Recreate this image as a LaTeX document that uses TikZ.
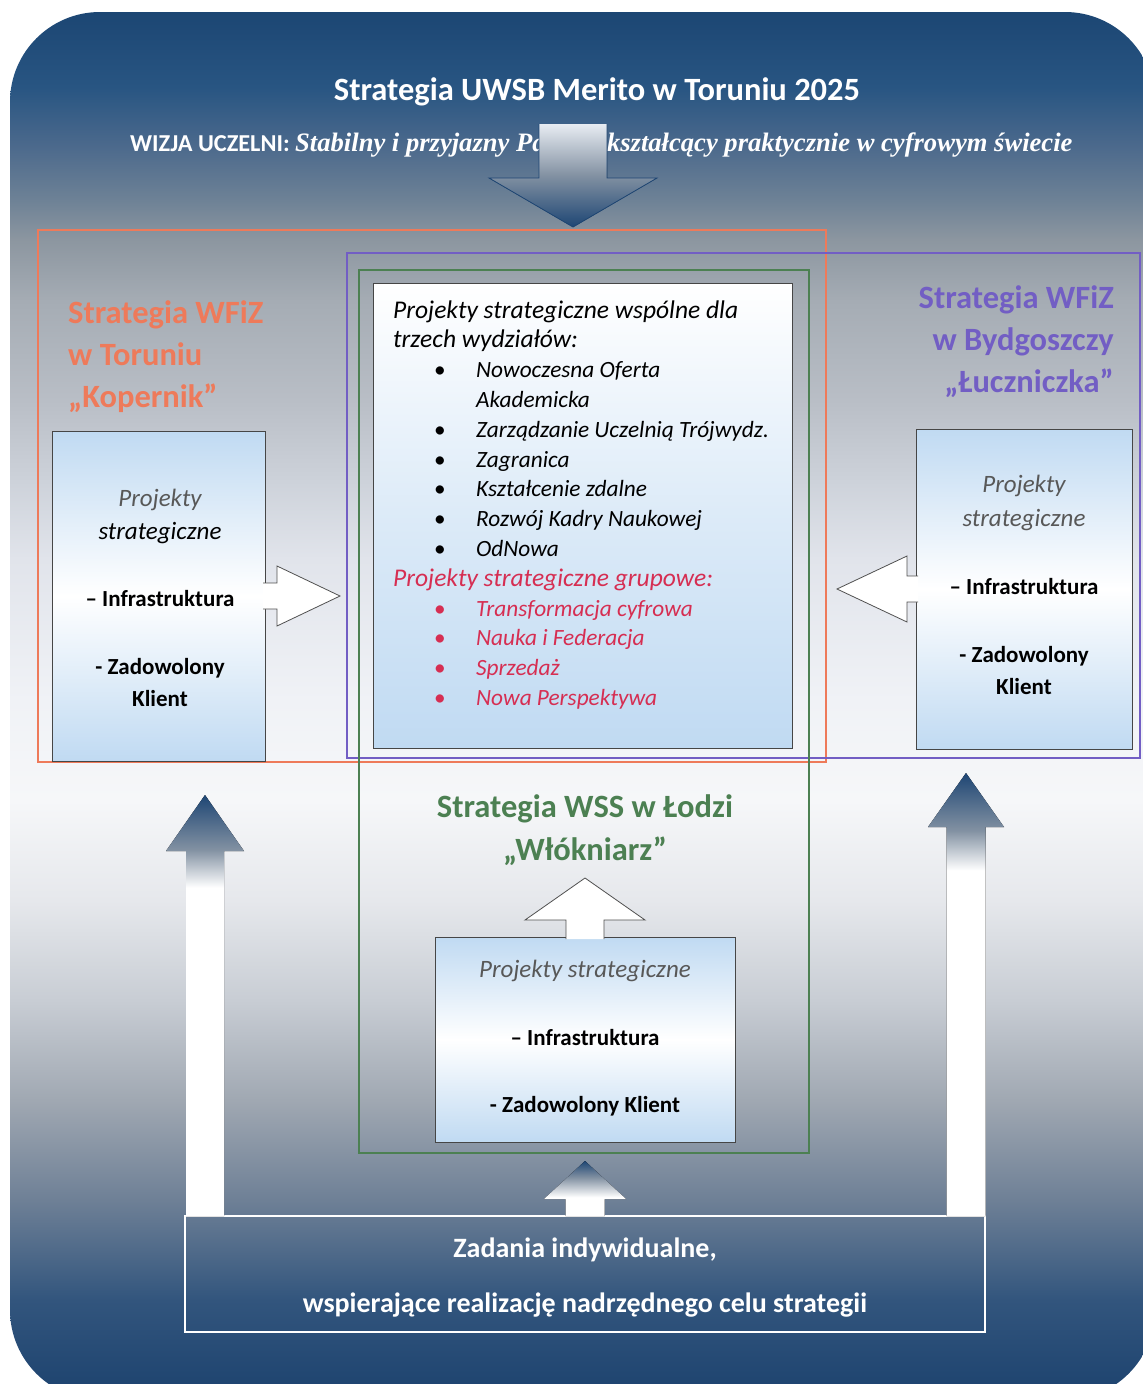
\documentclass[tikz,border=0pt]{standalone}
\usepackage{fontspec}
\setmainfont{Carlito}
\newfontfamily\visionfont{Liberation Serif}
\usepackage{tikz}
\usetikzlibrary{positioning,calc}
\usepackage{xcolor}
\definecolor{kopred}{RGB}{238,122,90}
\definecolor{lucpurple}{RGB}{114,94,196}
\definecolor{wlogreen}{RGB}{76,128,82}
\definecolor{projred}{RGB}{214,46,82}
\definecolor{projgrey}{RGB}{88,88,88}
\definecolor{boxblue}{RGB}{192,218,242}
\definecolor{boxline}{RGB}{70,70,70}
\definecolor{arrowline}{RGB}{80,80,80}
\definecolor{arrowdark}{RGB}{30,70,116}
\definecolor{arrowmid}{RGB}{130,145,162}
\definecolor{arrowtop}{RGB}{232,236,242}
\definecolor{bgA}{RGB}{28,66,110}
\definecolor{bgB}{RGB}{50,85,125}
\definecolor{bgC}{RGB}{110,128,150}
\definecolor{bgD}{RGB}{160,168,178}
\definecolor{bgE}{RGB}{200,205,212}
\definecolor{bgF}{RGB}{230,232,236}
\definecolor{bgG}{RGB}{246,247,249}
\definecolor{bgH}{RGB}{240,242,246}
\definecolor{bgI}{RGB}{225,228,235}
\definecolor{bgJ}{RGB}{205,210,218}
\definecolor{bgK}{RGB}{185,190,198}
\definecolor{bgL}{RGB}{165,172,180}
\definecolor{bgM}{RGB}{140,150,160}
\definecolor{bgN}{RGB}{110,130,150}
\definecolor{bgO}{RGB}{75,105,140}
\definecolor{bgP}{RGB}{40,85,130}
\definecolor{bgQ}{RGB}{28,70,115}
\pgfdeclareverticalshading{bgshade}{100bp}{color(0bp)=(bgA); color(25bp)=(bgA); color(28.6bp)=(bgB); color(32.2bp)=(bgC); color(35.8bp)=(bgD); color(39.4bp)=(bgE); color(43bp)=(bgF); color(46.6bp)=(bgG); color(50.2bp)=(bgH); color(55.3bp)=(bgI); color(58.1bp)=(bgJ); color(61bp)=(bgK); color(64.6bp)=(bgL); color(66.8bp)=(bgM); color(68.2bp)=(bgN); color(70.2bp)=(bgO); color(72.3bp)=(bgP); color(75bp)=(bgQ); color(100bp)=(bgQ)}
\pgfdeclareverticalshading{upfade}{100bp}{color(0bp)=(white); color(64bp)=(white); color(68.5bp)=(arrowmid); color(75bp)=(arrowdark); color(100bp)=(arrowdark)}
\pgfdeclareverticalshading{smallfade}{100bp}{color(0bp)=(white); color(42bp)=(white); color(60bp)=(arrowmid); color(75bp)=(arrowdark); color(100bp)=(arrowdark)}
\tikzstyle{framebox} = [draw, line width=2pt, inner sep=0pt, outer sep=0pt, anchor=north west]
\tikzstyle{projbox} = [draw=boxline, line width=0.8pt, inner sep=0pt, outer sep=0pt, anchor=north west, top color=boxblue, bottom color=boxblue, middle color=white]
\tikzstyle{headtxt} = [inner sep=0pt, font=\bfseries\fontsize{32.5}{42}\selectfont]
\tikzstyle{projtxt} = [inner sep=0pt, anchor=base, text=projgrey, font=\itshape\fontsize{25}{33}\selectfont]
\tikzstyle{itemtxt} = [inner sep=0pt, anchor=base, font=\bfseries\fontsize{23}{32}\selectfont]
\tikzstyle{whitearrow} = [fill=white]
\tikzstyle{whiteline} = [draw=arrowline, line width=0.8pt, line join=miter]
\newcommand{\itemsize}{\fontsize{23.3}{29.8}\selectfont}
\newcommand{\bul}{\itemsize\hspace*{41pt}\makebox[42pt][l]{\upshape\textbullet}}
% block arrow: fill, outline, tail, angle, length, shaft half, head half, head length
\newcommand{\blockarrow}[8]{%
  \begin{scope}[shift={(#3)}, rotate=#4]
    \fill[#1] (0,-#6) -- ({#5-#8},-#6) -- ({#5-#8},-#7) -- (#5,0) -- ({#5-#8},#7) -- ({#5-#8},#6) -- (0,#6) -- cycle;
    \draw[#2] (0,-#6) -- ({#5-#8},-#6) -- ({#5-#8},-#7) -- (#5,0) -- ({#5-#8},#7) -- ({#5-#8},#6) -- (0,#6);
  \end{scope}}

\begin{document}
\begin{tikzpicture}[x=1pt, y=-1pt]
\useasboundingbox (0,0) rectangle (1143,1384);

% Background
\begin{scope}
\clip[rounded corners=90pt] (10,12) rectangle (1155,1400);
\shade[shading=bgshade] (10,12) rectangle (1155,1400);
\end{scope}

% Title and vision
\node (title) [text=white, inner sep=0pt, anchor=base, font=\bfseries\fontsize{32.5}{39}\selectfont] at (597,100) {Strategia UWSB Merito w Toruniu 2025};
\node (vision) [text=white, inner sep=0pt, anchor=base west, font=\fontsize{24.3}{28}\selectfont] at (130,151) {\textbf{WIZJA UCZELNI:} {\visionfont\bfseries\itshape\fontsize{26.6}{30}\selectfont Stabilny i przyjazny Partner kształcący praktycznie w cyfrowym świecie}};
\coordinate (visionin) at (573,124);
\blockarrow{top color=arrowtop, bottom color=arrowdark, middle color=arrowmid}{draw=arrowdark, line width=0.8pt}{visionin}{-90}{103}{34}{84}{49}

% Strategy frames
\node (kopernik) [framebox, draw=kopred, minimum width=788pt, minimum height=532pt] at (38,230) {};
\node (luczniczka) [framebox, draw=lucpurple, minimum width=793pt, minimum height=505pt] at (347,253) {};
\node (wlokniarz) [framebox, draw=wlogreen, line width=1.6pt, minimum width=450pt, minimum height=883pt] at (359,270) {};

% Common projects
\node (wspolne) [projbox, top color=white, bottom color=boxblue, middle color=boxblue!55, minimum width=419pt, minimum height=465pt] at (373,283) {};
\node (wspolnetxt) [inner sep=0pt, anchor=base west, font=\itshape\fontsize{25.5}{29.8}\selectfont] at (393,318) {
\begin{tabular}[t]{@{}l@{}}
Projekty strategiczne wspólne dla\\
trzech wydziałów:\\
\bul Nowoczesna Oferta\\
\itemsize\hspace*{83pt}Akademicka\\
\bul Zarządzanie Uczelnią Trójwydz.\\
\bul Zagranica\\
\bul Kształcenie zdalne\\
\bul Rozwój Kadry Naukowej\\
\bul OdNowa\\
\textcolor{projred}{Projekty strategiczne grupowe:}\\
\textcolor{projred}{\bul Transformacja cyfrowa}\\
\textcolor{projred}{\bul Nauka i Federacja}\\
\textcolor{projred}{\bul Sprzedaż}\\
\textcolor{projred}{\bul Nowa Perspektywa}
\end{tabular}
};

% Kopernik
\node (kophead) [headtxt, text=kopred, anchor=base west] at (68,323) {
\begin{tabular}[t]{@{}l@{}}
Strategia WFiZ\\
w Toruniu\\
„Kopernik”
\end{tabular}
};
\node (kopproj) [projbox, minimum width=213pt, minimum height=330pt] at (52,431) {};
\node (kopprojtxt) [projtxt] at (160,506) {
\begin{tabular}[t]{@{}c@{}}
Projekty\\
\textcolor{black}{strategiczne}
\end{tabular}
};
\node (kopinfra) [itemtxt] at (160,606) {– Infrastruktura};
\node (kopklient) [itemtxt] at (160,674) {
\begin{tabular}[t]{@{}c@{}}
- Zadowolony\\
Klient
\end{tabular}
};

% Luczniczka
\node (luchead) [headtxt, text=lucpurple, anchor=base east] at (1114,308) {
\begin{tabular}[t]{@{}r@{}}
Strategia WFiZ\\
w Bydgoszczy\\
„Łuczniczka”
\end{tabular}
};
\node (lucproj) [projbox, minimum width=216pt, minimum height=320pt] at (916,429) {};
\node (lucprojtxt) [projtxt, font=\itshape\fontsize{25}{34}\selectfont] at (1024,492) {
\begin{tabular}[t]{@{}c@{}}
Projekty\\
strategiczne
\end{tabular}
};
\node (lucinfra) [itemtxt] at (1024,594) {– Infrastruktura};
\node (lucklient) [itemtxt] at (1024,662) {
\begin{tabular}[t]{@{}c@{}}
- Zadowolony\\
Klient
\end{tabular}
};

% Wlokniarz
\node (wlohead) [headtxt, text=wlogreen, anchor=base, font=\bfseries\fontsize{32.5}{43}\selectfont] at (585,817) {
\begin{tabular}[t]{@{}c@{}}
Strategia WSS w Łodzi\\
„Włókniarz”
\end{tabular}
};
\node (wloproj) [projbox, minimum width=300pt, minimum height=205pt] at (435,937) {};
\node (wloprojtxt) [projtxt] at (585,977) {Projekty strategiczne};
\node (wloinfra) [itemtxt] at (585,1045) {– Infrastruktura};
\node (wloklient) [itemtxt] at (585,1112) {- Zadowolony Klient};

% Arrows into the common projects
\blockarrow{whitearrow}{whiteline}{$(kopproj.east)+(-2,0)$}{0}{77}{13}{30}{63}
\blockarrow{whitearrow}{whiteline}{$(lucproj.west)+(2,0)$}{180}{81}{13}{33}{70}
\blockarrow{whitearrow}{whiteline}{$(wloproj.north)+(0,2)$}{90}{61}{19}{60}{42}

% Individual tasks
\node (zadania) [draw=white, line width=2pt, inner sep=0pt, outer sep=0pt, anchor=north west, minimum width=800pt, minimum height=116pt, text=white, font=\bfseries\fontsize{28}{55}\selectfont] at (185,1216) {
\begin{tabular}{@{}c@{}}
Zadania indywidualne,\\
wspierające realizację nadrzędnego celu strategii
\end{tabular}
};
\blockarrow{shade, shading=upfade}{draw=none}{$(zadania.north west)+(20,0)$}{90}{421}{19}{39}{56}
\blockarrow{shade, shading=upfade}{draw=none}{$(zadania.north east)+(-19,0)$}{90}{443}{19.5}{38}{54}
\blockarrow{shade, shading=smallfade}{draw=none}{zadania.north}{90}{55}{19.5}{41}{38}

\end{tikzpicture}
\end{document}
